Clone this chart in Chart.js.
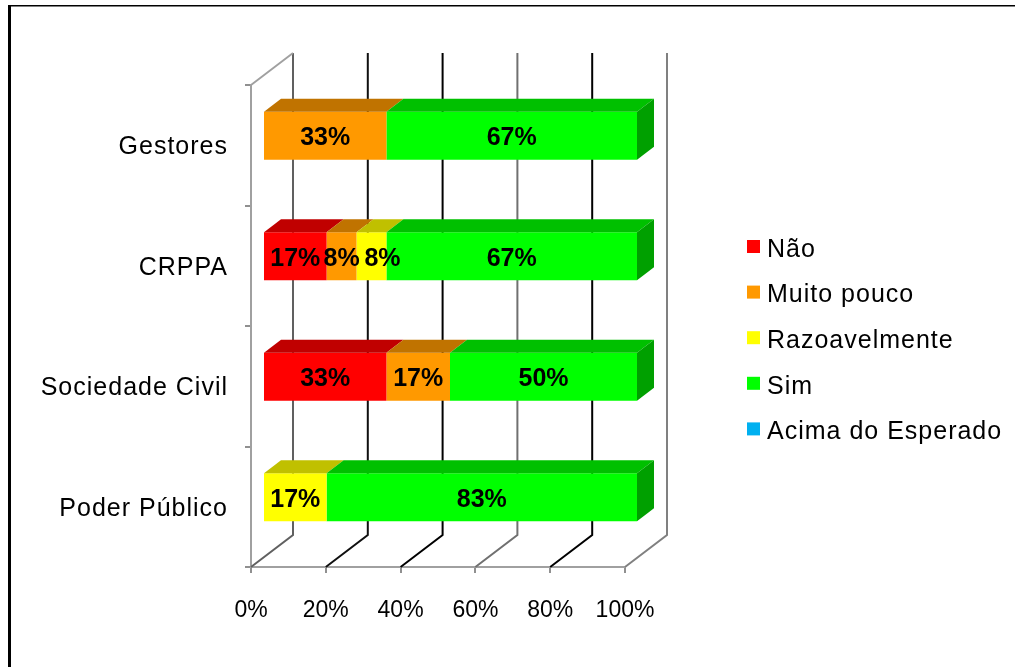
<!DOCTYPE html>
<html>
<head>
<meta charset="utf-8">
<style>
  html, body { margin: 0; padding: 0; background: #fff; }
  canvas { display: block; }
</style>
<script src="https://cdn.jsdelivr.net/npm/chart.js@4/dist/chart.umd.min.js"></script>
</head>
<body>
<canvas id="chart" width="1015" height="667"></canvas>
<script>
// data
const categories = ['Gestores', 'CRPPA', 'Sociedade Civil', 'Poder Público'];
const nao = [0, 17, 33, 0];
const muitoPouco = [33, 8, 17, 0];
const razoavelmente = [0, 8, 0, 17];
const sim = [67, 67, 50, 83];
const acimaDoEsperado = [0, 0, 0, 0];
const xTicks = [0, 20, 40, 60, 80, 100];

const fontName = '"Liberation Sans", Arial, sans-serif';

// fake 3d: wall offset, bar offset inside the box, bar depth
const wallDx = 42, wallDy = -32;
const barDx = 12, barDy = -9.5;
const depthDx = 17, depthDy = -13;
const wallColors = ['#606060', '#101010', '#000000', '#707070', '#000000', '#808080'];

function series(label, data, front, top, side) {
    return { label, data, backgroundColor: front, topColor: top, sideColor: side };
}

function poly(ctx, pts, color) {
    ctx.fillStyle = color;
    ctx.beginPath();
    pts.forEach((p, i) => i ? ctx.lineTo(p[0], p[1]) : ctx.moveTo(p[0], p[1]));
    ctx.closePath();
    ctx.fill();
}

const box3d = {
    id: 'box3d',
    beforeDatasetsDraw(chart) {
        const { ctx, scales, chartArea } = chart;
        const { top, bottom, left } = chartArea;

        // outer frame of the slide
        ctx.save();
        ctx.fillStyle = '#000';
        ctx.fillRect(8, 5, 1007, 1.5);
        ctx.fillRect(8, 5, 3, 662);

        // back wall and floor lines
        xTicks.forEach((t, i) => {
            const x = scales.x.getPixelForValue(t);
            ctx.strokeStyle = wallColors[i];
            ctx.lineWidth = 2;
            ctx.beginPath();
            ctx.moveTo(x + wallDx, top + wallDy);
            ctx.lineTo(x + wallDx, bottom + wallDy);
            ctx.lineTo(x, bottom);
            ctx.stroke();
        });

        // top of the side wall
        ctx.strokeStyle = '#a0a0a0';
        ctx.lineWidth = 2;
        ctx.beginPath();
        ctx.moveTo(left, top);
        ctx.lineTo(left + wallDx, top + wallDy);
        ctx.stroke();

        // start of the bars, they sit a bit inside the box
        ctx.translate(barDx, barDy);
    },
    afterDatasetsDraw(chart) {
        const { ctx } = chart;
        const n = chart.data.datasets.length;

        // top faces, then the end cap
        chart.data.datasets.forEach((ds, d) => {
            chart.getDatasetMeta(d).data.forEach((bar, i) => {
                if (!ds.data[i]) return;
                const y0 = bar.y - bar.height / 2;
                poly(ctx, [
                    [bar.base, y0], [bar.x, y0],
                    [bar.x + depthDx, y0 + depthDy], [bar.base + depthDx, y0 + depthDy]
                ], ds.topColor);
                const y1 = bar.y + bar.height / 2;
                let last = true;
                for (let k = d + 1; k < n; k++) if (chart.data.datasets[k].data[i]) last = false;
                if (last) {
                    poly(ctx, [
                        [bar.x, y0], [bar.x + depthDx, y0 + depthDy],
                        [bar.x + depthDx, y1 + depthDy], [bar.x, y1]
                    ], ds.sideColor);
                }
            });
        });

        // value labels
        ctx.fillStyle = '#000';
        ctx.font = 'bold 25px ' + fontName;
        ctx.textAlign = 'center';
        ctx.textBaseline = 'middle';
        chart.data.datasets.forEach((ds, d) => {
            chart.getDatasetMeta(d).data.forEach((bar, i) => {
                if (!ds.data[i]) return;
                // the yellow 8% was nudged right in the original
                const nudge = (d === 2 && ds.data[i] === 8) ? 11 : 0;
                ctx.fillText(ds.data[i] + '%', (bar.x + bar.base) / 2 + nudge, bar.y + 2.5);
            });
        });
        ctx.restore();

        // legend
        ctx.save();
        ctx.font = '25px ' + fontName;
        ctx.letterSpacing = '1px';
        ctx.textAlign = 'left';
        ctx.textBaseline = 'middle';
        chart.data.datasets.forEach((ds, d) => {
            const y = 247 + d * 45.6;
            ctx.fillStyle = ds.backgroundColor;
            ctx.fillRect(747, y - 7, 13, 13);
            ctx.fillStyle = '#000';
            ctx.fillText(ds.label, 767, y + 3);
        });
        ctx.restore();
    }
};

new Chart(document.getElementById('chart'), {
    type: 'bar',
    data: {
        labels: categories,
        datasets: [
            series('Não', nao, '#ff0000', '#c00000', '#a00000'),
            series('Muito pouco', muitoPouco, '#ff9900', '#c07300', '#a06000'),
            series('Razoavelmente', razoavelmente, '#ffff00', '#c0c000', '#a0a000'),
            series('Sim', sim, '#00ff00', '#00c000', '#00a000'),
            series('Acima do Esperado', acimaDoEsperado, '#00b0f0', '#0084b4', '#006e96')
        ]
    },
    options: {
        indexAxis: 'y',
        responsive: false,
        animation: false,
        devicePixelRatio: 1,
        layout: { padding: { top: 85, right: 390, left: 0, bottom: 0 } },
        categoryPercentage: 1,
        barPercentage: 0.4,
        plugins: { legend: { display: false }, tooltip: { enabled: false } },
        scales: {
            x: {
                stacked: true,
                min: 0,
                max: 100,
                afterFit(scale) { scale.height = 100; },
                afterBuildTicks(scale) { scale.ticks = xTicks.map(v => ({ value: v })); },
                grid: { drawOnChartArea: false, color: '#909090', lineWidth: 2, tickLength: 6 },
                border: { color: '#a0a0a0', width: 2 },
                ticks: {
                    color: '#000',
                    padding: 24,
                    maxRotation: 0,
                    font: { family: fontName, size: 23 },
                    callback: v => v + '%'
                }
            },
            y: {
                stacked: true,
                afterFit(scale) {
                    scale.width = 251;
                    // the original category labels are set wider than the font
                    const ctx = scale.ctx, drawLabels = scale.drawLabels;
                    scale.drawLabels = function (area) {
                        ctx.letterSpacing = '1px';
                        drawLabels.call(this, area);
                        ctx.letterSpacing = '0px';
                    };
                },
                grid: { drawOnChartArea: false, color: '#909090', lineWidth: 2, tickLength: 6 },
                border: { color: '#a0a0a0', width: 2 },
                ticks: {
                    color: '#000',
                    padding: 17,
                    labelOffset: 2,
                    font: { family: fontName, size: 25 }
                }
            }
        }
    },
    plugins: [box3d]
});
</script>
</body>
</html>
